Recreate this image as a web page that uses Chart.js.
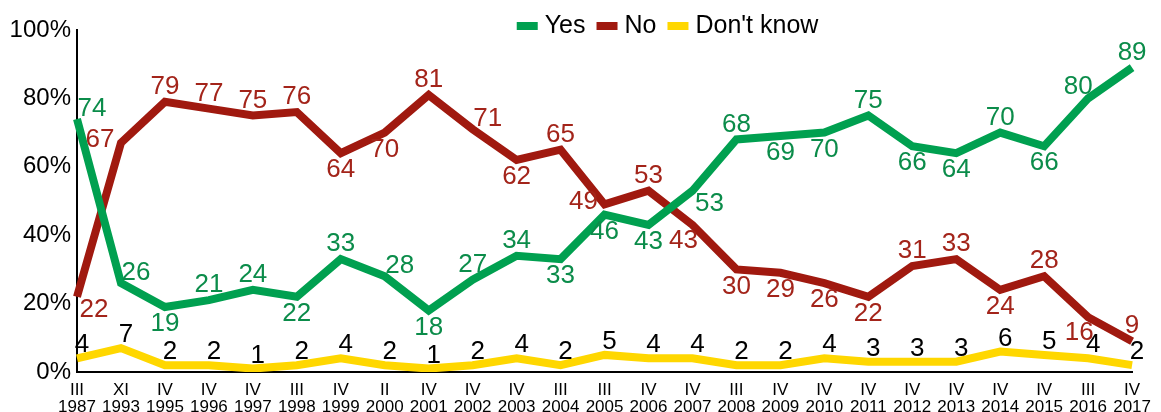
<!DOCTYPE html>
<html>
<head>
<meta charset="utf-8">
<title>Yes / No / Don't know</title>
<script src="https://cdn.jsdelivr.net/npm/chart.js@4/dist/chart.umd.min.js"></script>
<style>
  html, body { margin: 0; padding: 0; background: #fff; }
  #wrap { width: 1161px; height: 412px; }
</style>
</head>
<body>
<div id="wrap"><canvas id="chart" width="1161" height="412"></canvas></div>
<script>
// données
const periods = ['III', 'XI', 'IV', 'IV', 'IV', 'III', 'IV', 'II', 'IV', 'IV', 'IV', 'III', 'III',
                 'IV', 'IV', 'III', 'IV', 'IV', 'IV', 'IV', 'IV', 'IV', 'IV', 'III', 'IV'];
const years = ['1987', '1993', '1995', '1996', '1997', '1998', '1999', '2000', '2001', '2002', '2003', '2004', '2005',
               '2006', '2007', '2008', '2009', '2010', '2011', '2012', '2013', '2014', '2015', '2016', '2017'];
const yesValues = [74, 26, 19, 21, 24, 22, 33, 28, 18, 27, 34, 33, 46, 43, 53, 68, 69, 70, 75, 66, 64, 70, 66, 80, 89];
const noValues = [22, 67, 79, 77, 75, 76, 64, 70, 81, 71, 62, 65, 49, 53, 43, 30, 29, 26, 22, 31, 33, 24, 28, 16, 9];
const dkValues = [4, 7, 2, 2, 1, 2, 4, 2, 1, 2, 4, 2, 5, 4, 4, 2, 2, 4, 3, 3, 3, 6, 5, 4, 2];
const yTicks = [0, 20, 40, 60, 80, 100];

// placement des étiquettes (style, pas des données)
const yesPlace = ['tr', 'tr', 'b', 't', 't', 'b', 't', 'tr', 'b', 't', 't', 'b', 'b',
                  'b', 'br', 't', 'b', 'b', 't', 'b', 'b', 't', 'b', 'tl', 't'];
const noPlace = ['br', 'l', 't', 't', 't', 't', 'b', 'b', 't', 'tr', 'b', 't', 'l',
                 't', 'bl', 'b', 'b', 'b', 'b', 't', 't', 'b', 't', 'bl', 't'];
const dkPlace = dkValues.map(() => 'd');

const offsets = {
  t: [0, -15], b: [0, 17], l: [-21, -3], r: [18, -3],
  tr: [15, -10], br: [17, 13], tl: [-10, -12], bl: [-9, 16], d: [5, -13]
};

const FONT = "'Liberation Sans', Arial, sans-serif";
Chart.defaults.font.family = FONT;
Chart.defaults.color = '#000';

// étiquettes de valeurs sur chaque point
const valueLabels = {
  id: 'valueLabels',
  afterDatasetsDraw(chart) {
    const ctx = chart.ctx;
    ctx.save();
    ctx.font = '26px ' + FONT;
    ctx.textAlign = 'center';
    ctx.textBaseline = 'middle';
    chart.data.datasets.forEach((ds, di) => {
      const meta = chart.getDatasetMeta(di);
      ctx.fillStyle = ds.labelColor;
      meta.data.forEach((pt, i) => {
        const off = offsets[ds.placement[i]] || offsets.t;
        ctx.fillText(String(ds.data[i]), pt.x + off[0], pt.y + off[1]);
      });
    });
    ctx.restore();
  }
};

// légende dessinée à la main (elle chevauche la zone du graphique)
const topLegend = {
  id: 'topLegend',
  afterDraw(chart) {
    const ctx = chart.ctx;
    const area = chart.chartArea;
    ctx.save();
    ctx.font = '25px ' + FONT;
    ctx.textBaseline = 'middle';
    const boxW = 21, boxH = 8, gap = 7, spacing = 11, y = 26;
    const items = chart.data.datasets.map(ds => ({ text: ds.label, color: ds.borderColor, w: ctx.measureText(ds.label).width }));
    const total = items.reduce((s, it) => s + boxW + gap + it.w, 0) + spacing * (items.length - 1);
    let x = (area.left + area.right) / 2 + 63 - total / 2;
    items.forEach(it => {
      ctx.fillStyle = it.color;
      ctx.fillRect(x, y - boxH / 2, boxW, boxH);
      x += boxW + gap;
      ctx.fillStyle = '#000';
      ctx.fillText(it.text, x, y);
      x += it.w + spacing;
    });
    ctx.restore();
  }
};

const ctx = document.getElementById('chart');
const chart = new Chart(ctx, {
  type: 'line',
  data: {
    labels: periods.map((p, i) => [p, years[i]]),
    datasets: [
      {
        label: 'Yes',
        data: yesValues,
        borderColor: '#00A050',
        backgroundColor: '#00A050',
        labelColor: '#0B8C4A',
        placement: yesPlace,
        borderWidth: 8,
        pointRadius: 0,
        tension: 0
      },
      {
        label: 'No',
        data: noValues,
        borderColor: '#A0190F',
        backgroundColor: '#A0190F',
        labelColor: '#A3241A',
        placement: noPlace,
        borderWidth: 8,
        pointRadius: 0,
        tension: 0
      },
      {
        label: "Don't know",
        data: dkValues,
        borderColor: '#FFD700',
        backgroundColor: '#FFD700',
        labelColor: '#000',
        placement: dkPlace,
        borderWidth: 8,
        pointRadius: 0,
        tension: 0
      }
    ]
  },
  options: {
    responsive: false,
    animation: false,
    layout: { padding: { top: 30, right: 28, bottom: 0, left: 0 } },
    plugins: {
      legend: { display: false },
      tooltip: { enabled: false }
    },
    scales: {
      x: {
        type: 'category',
        offset: false,
        grid: { display: false, drawTicks: false },
        border: { display: true, color: '#000', width: 2 },
        ticks: {
          autoSkip: false,
          maxRotation: 0,
          minRotation: 0,
          padding: 10,
          color: '#000',
          font: { size: 17, lineHeight: 1 }
        },
        afterFit(scale) { scale.height = 40; }
      },
      y: {
        min: 0,
        max: 100,
        grid: { display: false, drawTicks: false },
        border: { display: true, color: '#000', width: 2 },
        afterBuildTicks(scale) { scale.ticks = yTicks.map(v => ({ value: v })); },
        ticks: {
          padding: 6,
          color: '#000',
          font: { size: 24 },
          callback: v => v + '%'
        },
        afterFit(scale) { scale.width = 77; }
      }
    }
  },
  plugins: [valueLabels, topLegend]
});
</script>
</body>
</html>
